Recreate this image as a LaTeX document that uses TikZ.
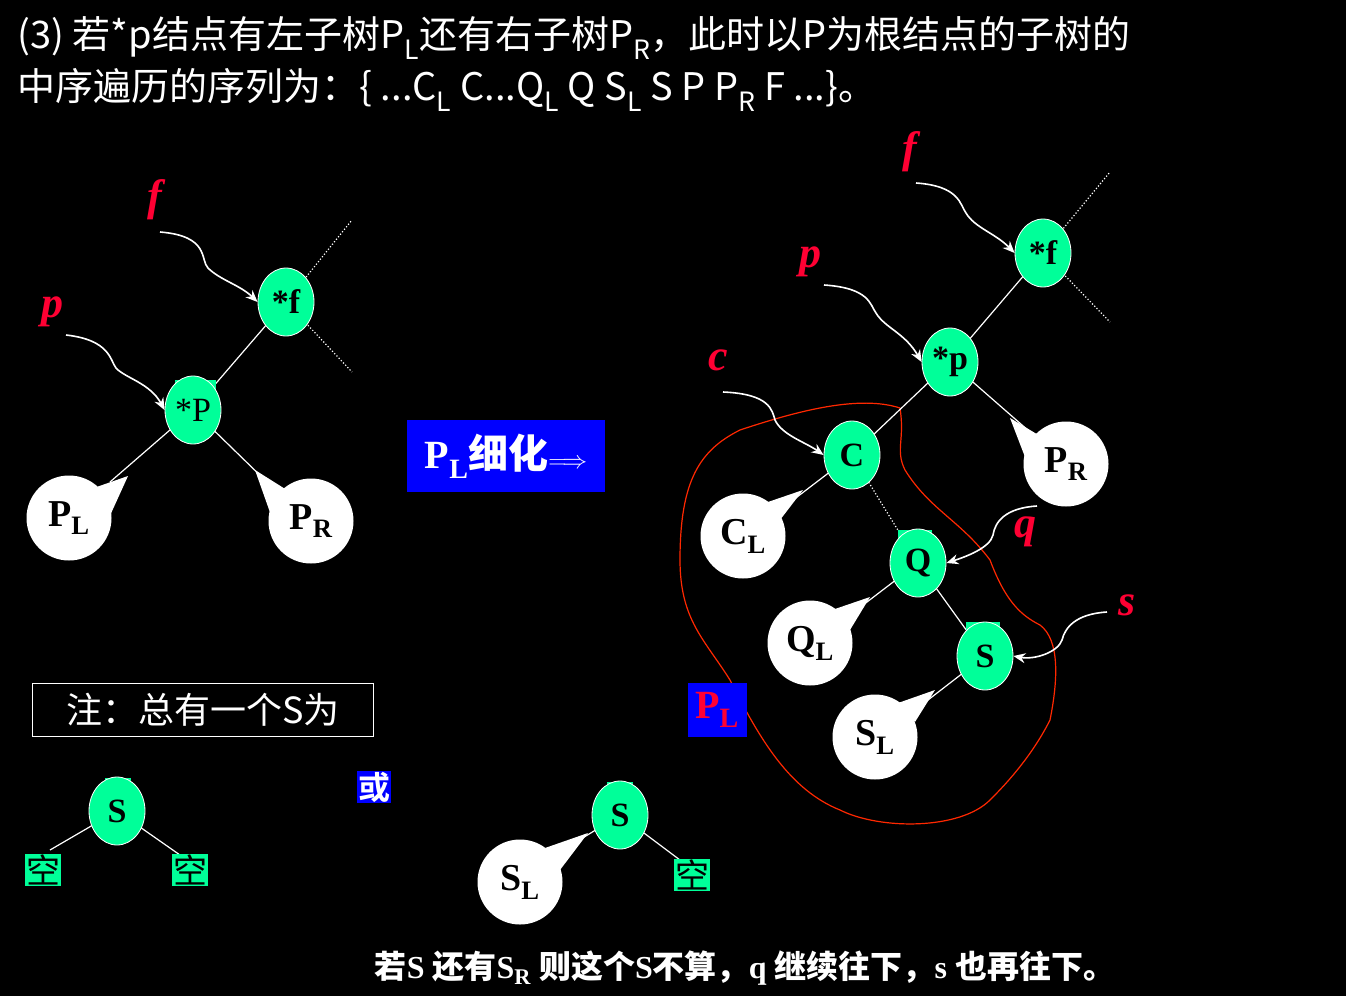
\documentclass[tikz,border=0pt]{standalone}
\usepackage{fontspec}
\setmainfont{Liberation Serif}
\newfontfamily\cjk{Noto Sans CJK SC}
\newfontfamily\cjkb{Noto Sans CJK SC Bold}
\usetikzlibrary{arrows.meta,shapes.geometric,calc}
\definecolor{gn}{RGB}{0,255,153}
\definecolor{rd}{RGB}{255,0,51}
\definecolor{bl}{RGB}{0,0,255}
\definecolor{loopc}{RGB}{255,40,0}
\tikzset{
 gnode/.style={ellipse,fill=gn,draw=white,line width=0.8pt,minimum width=56pt,minimum height=68pt,inner sep=0pt,font=\fontsize{34}{34}\selectfont\bfseries},
 wnode/.style={circle,fill=white,minimum size=85pt,inner sep=0pt,font=\fontsize{38}{38}\selectfont\bfseries},
 lab/.style={text=rd,font=\fontsize{44}{44}\selectfont\bfseries\itshape},
 edge/.style={white,line width=1.2pt},
 dot/.style={white,dotted,line width=1.2pt},
 ptr/.style={white,line width=1.6pt,-{Stealth[length=12pt,width=10pt]}},
 kong/.style={fill=gn,inner sep=1pt,font=\cjk\fontsize{34}{34}\selectfont},
}
\begin{document}
\begin{tikzpicture}[x=1pt,y=-1pt]
\fill[black] (0,0) rectangle (1346,996);
\useasboundingbox (0,0) rectangle (1346,996);
% top text
\node[anchor=west,text=white,font=\cjk\fontsize{38}{40}\selectfont] (t1) at (14,38) {(3) 若*p结点有左子树P\textsubscript{L}还有右子树P\textsubscript{R}，此时以P为根结点的子树的};
\node[anchor=west,text=white,font=\cjk\fontsize{38}{40}\selectfont] (t2) at (14,90) {中序遍历的序列为：\{ ...C\textsubscript{L} C...Q\textsubscript{L} Q S\textsubscript{L} S P P\textsubscript{R} F ...\}。};
% left tree
\draw[dot] (286,302) -- (352,220);
\draw[dot] (286,302) -- (352,372);
\draw[edge] (286,302) -- (193,410);
\draw[edge] (193,410) -- (110,482);
\draw[edge] (193,410) -- (270,485);
\fill[white] (88,490) -- (128,476) -- (108,520) -- cycle;
\fill[white] (290,492) -- (255,470) -- (272,518) -- cycle;
\node[wnode] (pl) at (69,518) {P\textsubscript{L}};
\node[wnode] (pr) at (311,521) {P\textsubscript{R}};
\fill[gn] (175,380) rectangle (216,392);
\node[gnode] (lf) at (286,302) {*f};
\node[gnode] (lp) at (193,410) {\mdseries *P};
\node[lab] (lfl) at (155,200) {f};
\node[lab] (lpl) at (52,312) {p};
\draw[ptr] (160,232) .. controls (210,236) and (200,260) .. (208,268) .. controls (220,280) and (240,285) .. (lf.west);
\draw[ptr] (66,335) .. controls (110,340) and (110,360) .. (116,368) .. controls (125,378) and (150,383) .. (lp.west);
% middle box
\node[fill=bl,text=white,minimum width=198pt,minimum height=72pt,inner sep=0pt,font=\bfseries\fontsize{40}{40}\selectfont] (refine) at (506,456) {P\textsubscript{L}{\cjkb 细化}$\Longrightarrow$};
% red loop
\draw[loopc,line width=1.2pt] (900,408) .. controls (905,440) and (895,450) .. (905,470)
 .. controls (930,510) and (960,520) .. (990,560) .. controls (1005,600) and (1020,615) .. (1040,625)
 .. controls (1060,640) and (1058,680) .. (1050,720) .. controls (1030,760) and (1000,790) .. (990,800)
 .. controls (960,830) and (880,830) .. (840,810) .. controls (790,790) and (760,740) .. (730,680)
 .. controls (705,640) and (680,620) .. (680,560) .. controls (680,480) and (700,450) .. (740,430)
 .. controls (800,410) and (860,395) .. (900,408);
% right tree
\draw[dot] (1043,253) -- (1110,172);
\draw[dot] (1043,253) -- (1110,322);
\draw[edge] (1043,253) -- (950,362);
\draw[edge] (950,362) -- (852,455);
\draw[edge] (950,362) -- (1030,432);
\draw[dot] (852,455) -- (918,563);
\draw[edge] (852,455) -- (780,510);
\draw[edge] (918,563) -- (850,615);
\draw[edge] (918,563) -- (985,656);
\draw[edge] (985,656) -- (915,710);
\fill[white] (1040,436) -- (1010,418) -- (1030,470) -- cycle;
\fill[white] (765,503) -- (803,490) -- (780,520) -- cycle;
\fill[white] (832,610) -- (870,597) -- (850,630) -- cycle;
\fill[white] (898,703) -- (935,690) -- (915,722) -- cycle;
\node[wnode] (rpr) at (1066,464) {P\textsubscript{R}};
\node[wnode] (cl) at (743,536) {C\textsubscript{L}};
\node[wnode] (ql) at (810,643) {Q\textsubscript{L}};
\node[wnode] (sl) at (875,737) {S\textsubscript{L}};
\fill[gn] (898,530) rectangle (932,540);
\fill[gn] (966,622) rectangle (1000,632);
\node[gnode] (rf) at (1043,253) {*f};
\node[gnode] (rp) at (950,362) {*p};
\node[gnode] (c) at (852,455) {C};
\node[gnode] (q) at (918,563) {Q};
\node[gnode] (s) at (985,656) {S};
\node[lab] (rfl) at (910,152) {f};
\node[lab] (rpl) at (810,262) {p};
\node[lab] (cla) at (718,360) {c};
\node[lab] (qla) at (1025,532) {q};
\node[lab] (sla) at (1127,605) {s};
\draw[ptr] (916,183) .. controls (960,186) and (960,205) .. (966,213) .. controls (975,228) and (995,233) .. (rf.west);
\draw[ptr] (824,285) .. controls (870,288) and (870,305) .. (876,313) .. controls (885,328) and (905,333) .. (rp.west);
\draw[ptr] (723,392) .. controls (770,394) and (772,410) .. (775,420) .. controls (782,435) and (805,442) .. (c.west);
\draw[ptr] (1037,506) .. controls (1005,508) and (995,522) .. (993,535) .. controls (990,548) and (965,557) .. (q.east);
\draw[ptr] (1107,612) .. controls (1075,614) and (1065,628) .. (1062,640) .. controls (1058,652) and (1035,660) .. (s.east);
\node[fill=bl,text=rd,minimum width=59pt,minimum height=54pt,inner sep=0pt,font=\bfseries\fontsize{40}{40}\selectfont] (plb) at (717,710) {P\textsubscript{L}};
% note
\node[draw=white,line width=1pt,text=white,minimum width=341pt,minimum height=53pt,inner sep=0pt,font=\cjk\fontsize{36}{36}\selectfont] (note) at (203,710) {注：总有一个S为};
% bottom left S
\draw[edge] (117,811) -- (50,850);
\draw[edge] (117,811) -- (180,855);
\fill[gn] (105,778) rectangle (131,788);
\node[gnode] (bs1) at (117,811) {S};
\node[kong] (k1) at (43,870) {空};
\node[kong] (k2) at (190,870) {空};
\node[fill=bl,text=white,inner sep=1pt,font=\cjkb\fontsize{32}{32}\selectfont] (huo) at (374,787) {或};
% bottom middle S
\draw[edge] (620,815) -- (555,855);
\draw[edge] (620,815) -- (680,860);
\fill[white] (545,848) -- (588,833) -- (560,870) -- cycle;
\node[wnode] (bsl) at (520,882) {S\textsubscript{L}};
\fill[gn] (607,782) rectangle (633,792);
\node[gnode] (bs2) at (620,815) {S};
\node[kong] (k3) at (692,875) {空};
% bottom text
\node[text=white,font=\bfseries\fontsize{32}{34}\selectfont] (bt) at (745,968) {{\cjkb 若}S {\cjkb 还有}S\textsubscript{R} {\cjkb 则这个}S{\cjkb 不算，}q {\cjkb 继续往下，}s {\cjkb 也再往下。}};
\end{tikzpicture}
\end{document}
